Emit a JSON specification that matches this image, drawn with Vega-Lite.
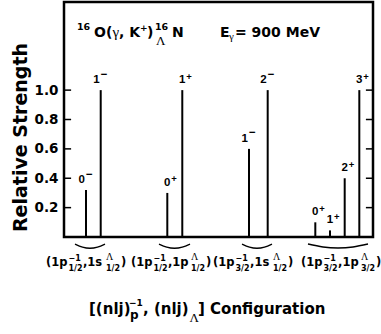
{
  "$schema": "https://vega.github.io/schema/vega-lite/v6.json",
  "width": 309,
  "height": 235,
  "autosize": "none",
  "padding": {"left": 64, "top": 2, "right": 8, "bottom": 97},
  "background": "white",
  "config": {"view": {"stroke": "black", "strokeWidth": 2.5}},
  "datasets": {
    "bars": [
      {"x": 0.712, "s": 0.32, "j": "0", "p": "−"},
      {"x": 1.188, "s": 1.0, "j": "1", "p": "−"},
      {"x": 3.343, "s": 0.30, "j": "0", "p": "+"},
      {"x": 3.828, "s": 1.0, "j": "1", "p": "+"},
      {"x": 5.987, "s": 0.6, "j": "1", "p": "−"},
      {"x": 6.592, "s": 1.0, "j": "2", "p": "−"},
      {"x": 8.133, "s": 0.10, "j": "0", "p": "+"},
      {"x": 8.608, "s": 0.045, "j": "1", "p": "+"},
      {"x": 9.084, "s": 0.40, "j": "2", "p": "+"},
      {"x": 9.557, "s": 1.0, "j": "3", "p": "+"}
    ],
    "ticks": [{"t": 0.2}, {"t": 0.4}, {"t": 0.6}, {"t": 0.8}, {"t": 1.0}],
    "brackets": [
      {"g": 1, "x": 0.356, "y": -0.048}, {"g": 1, "x": 0.599, "y": -0.069}, {"g": 1, "x": 0.841, "y": -0.077}, {"g": 1, "x": 1.084, "y": -0.069}, {"g": 1, "x": 1.327, "y": -0.048},
      {"g": 2, "x": 3.074, "y": -0.048}, {"g": 2, "x": 3.325, "y": -0.069}, {"g": 2, "x": 3.576, "y": -0.077}, {"g": 2, "x": 3.827, "y": -0.069}, {"g": 2, "x": 4.078, "y": -0.048},
      {"g": 3, "x": 5.761, "y": -0.048}, {"g": 3, "x": 6.003, "y": -0.069}, {"g": 3, "x": 6.246, "y": -0.077}, {"g": 3, "x": 6.489, "y": -0.069}, {"g": 3, "x": 6.731, "y": -0.048},
      {"g": 4, "x": 7.896, "y": -0.048}, {"g": 4, "x": 8.382, "y": -0.068}, {"g": 4, "x": 8.867, "y": -0.075}, {"g": 4, "x": 9.353, "y": -0.068}, {"g": 4, "x": 9.838, "y": -0.048}
    ],
    "groups": [
      {"x": 0.728, "y": -0.197, "sub": "1/2", "mid": ",1s", "sub2": "1/2"},
      {"x": 3.479, "y": -0.197, "sub": "1/2", "mid": ",1p", "sub2": "1/2"},
      {"x": 6.133, "y": -0.197, "sub": "3/2", "mid": ",1s", "sub2": "1/2"},
      {"x": 8.981, "y": -0.197, "sub": "3/2", "mid": ",1p", "sub2": "3/2"}
    ],
    "title": [{"x": 0.971, "y": 1.3635}],
    "xtitle": [{"x": 0.809, "y": -0.524}]
  },
  "layer": [
    {
      "data": {"name": "bars"},
      "mark": {"type": "rule", "color": "black", "strokeWidth": 2},
      "encoding": {
        "x": {"field": "x", "type": "quantitative", "scale": {"domain": [0, 10], "nice": false}, "axis": null},
        "y": {"field": "s", "type": "quantitative", "scale": {"domain": [0, 1.6], "nice": false},
          "axis": {"values": [0.2, 0.4, 0.6, 0.8, 1.0], "format": ".1f", "ticks": false, "domain": false, "grid": false,
            "labelFont": "DejaVu Sans", "labelFontWeight": "bold", "labelFontSize": 13.5, "labelColor": "black", "labelPadding": 6,
            "title": "Relative Strength", "titleFont": "DejaVu Sans", "titleFontSize": 19, "titleFontWeight": "bold", "titleColor": "black",
            "titleX": -44, "titleY": 135, "titleAngle": -90, "titleAlign": "center", "titleBaseline": "middle"}},
        "y2": {"datum": 0}
      }
    },
    {
      "data": {"name": "ticks"},
      "mark": {"type": "rule", "color": "black", "strokeWidth": 1.5},
      "encoding": {
        "x": {"datum": 0, "type": "quantitative", "scale": {"domain": [0, 10], "nice": false}, "axis": null},
        "x2": {"datum": 0.23},
        "y": {"field": "t", "type": "quantitative", "scale": {"domain": [0, 1.6], "nice": false}}
      }
    },
    {
      "data": {"name": "ticks"},
      "mark": {"type": "rule", "color": "black", "strokeWidth": 1.5},
      "encoding": {
        "x": {"datum": 9.77, "type": "quantitative", "scale": {"domain": [0, 10], "nice": false}, "axis": null},
        "x2": {"datum": 10},
        "y": {"field": "t", "type": "quantitative", "scale": {"domain": [0, 1.6], "nice": false}}
      }
    },
    {
      "data": {"name": "brackets"},
      "mark": {"type": "line", "color": "black", "strokeWidth": 1.4, "interpolate": "natural"},
      "encoding": {
        "x": {"field": "x", "type": "quantitative", "scale": {"domain": [0, 10], "nice": false}, "axis": null},
        "y": {"field": "y", "type": "quantitative", "scale": {"domain": [0, 1.6], "nice": false}},
        "detail": {"field": "g", "type": "nominal"}
      }
    },
    {
      "data": {"name": "bars"},
      "transform": [{"filter": "datum.p == '+'"}],
      "mark": {"type": "text", "font": "Liberation Sans", "fontWeight": "bold", "fontSize": 11.5, "align": "center", "baseline": "alphabetic", "dy": -7, "color": "black"},
      "encoding": {
        "x": {"field": "x", "type": "quantitative", "scale": {"domain": [0, 10], "nice": false}, "axis": null},
        "y": {"field": "s", "type": "quantitative", "scale": {"domain": [0, 1.6], "nice": false}},
        "text": {"field": "j"}
      }
    },
    {
      "data": {"name": "bars"},
      "transform": [{"filter": "datum.p != '+'"}],
      "mark": {"type": "text", "font": "Liberation Sans", "fontWeight": "bold", "fontSize": 11.5, "align": "right", "baseline": "alphabetic", "dx": -1, "dy": -7, "color": "black"},
      "encoding": {
        "x": {"field": "x", "type": "quantitative", "scale": {"domain": [0, 10], "nice": false}, "axis": null},
        "y": {"field": "s", "type": "quantitative", "scale": {"domain": [0, 1.6], "nice": false}},
        "text": {"field": "j"}
      }
    },
    {
      "data": {"name": "bars"},
      "transform": [{"filter": "datum.p == '+'"}],
      "mark": {"type": "text", "font": "Liberation Sans", "fontWeight": "bold", "fontSize": 9.5, "align": "left", "baseline": "alphabetic", "dx": 4, "dy": -10.5, "color": "black"},
      "encoding": {
        "x": {"field": "x", "type": "quantitative", "scale": {"domain": [0, 10], "nice": false}, "axis": null},
        "y": {"field": "s", "type": "quantitative", "scale": {"domain": [0, 1.6], "nice": false}},
        "text": {"field": "p"}
      }
    },
    {
      "data": {"name": "bars"},
      "transform": [{"filter": "datum.p != '+'"}],
      "mark": {"type": "text", "font": "Liberation Sans", "fontWeight": "bold", "fontSize": 11.5, "align": "left", "baseline": "alphabetic", "dx": 0, "dy": -12.5, "color": "black"},
      "encoding": {
        "x": {"field": "x", "type": "quantitative", "scale": {"domain": [0, 10], "nice": false}, "axis": null},
        "y": {"field": "s", "type": "quantitative", "scale": {"domain": [0, 1.6], "nice": false}},
        "text": {"field": "p"}
      }
    },
    {
      "data": {"name": "groups"},
      "layer": [
        {"mark": {"type": "text", "text": "(1p", "font": "DejaVu Sans", "fontWeight": "bold", "fontSize": 11.5, "align": "left", "baseline": "alphabetic", "dx": -40.5, "color": "black"}},
        {"mark": {"type": "text", "text": "−1", "font": "DejaVu Sans", "fontWeight": "bold", "fontSize": 8, "align": "left", "baseline": "alphabetic", "dx": -18, "dy": -5, "color": "black"}},
        {"mark": {"type": "text", "font": "DejaVu Sans", "fontWeight": "bold", "fontSize": 8, "align": "left", "baseline": "alphabetic", "dx": -18, "dy": 5, "color": "black"}, "encoding": {"text": {"field": "sub"}}},
        {"mark": {"type": "text", "font": "DejaVu Sans", "fontWeight": "bold", "fontSize": 11.5, "align": "left", "baseline": "alphabetic", "dx": -3.5, "color": "black"}, "encoding": {"text": {"field": "mid"}}},
        {"mark": {"type": "text", "text": "Λ", "font": "Liberation Serif", "fontSize": 10, "align": "left", "baseline": "alphabetic", "dx": 19.5, "dy": -6, "color": "black"}},
        {"mark": {"type": "text", "font": "DejaVu Sans", "fontWeight": "bold", "fontSize": 8, "align": "left", "baseline": "alphabetic", "dx": 19.5, "dy": 5, "color": "black"}, "encoding": {"text": {"field": "sub2"}}},
        {"mark": {"type": "text", "text": ")", "font": "DejaVu Sans", "fontWeight": "bold", "fontSize": 11.5, "align": "left", "baseline": "alphabetic", "dx": 34.5, "color": "black"}}
      ],
      "encoding": {
        "x": {"field": "x", "type": "quantitative", "scale": {"domain": [0, 10], "nice": false}, "axis": null},
        "y": {"field": "y", "type": "quantitative", "scale": {"domain": [0, 1.6], "nice": false}}
      }
    },
    {
      "data": {"name": "title"},
      "layer": [
        {"mark": {"type": "text", "text": "16", "font": "DejaVu Sans", "fontWeight": "bold", "fontSize": 9.5, "align": "left", "baseline": "alphabetic", "dx": -17, "dy": -7, "color": "black"}},
        {"mark": {"type": "text", "text": "O(", "font": "DejaVu Sans", "fontWeight": "bold", "fontSize": 14, "align": "left", "baseline": "alphabetic", "dx": 0, "color": "black"}},
        {"mark": {"type": "text", "text": "γ", "font": "Liberation Serif", "fontSize": 15, "align": "left", "baseline": "alphabetic", "dx": 18.5, "color": "black"}},
        {"mark": {"type": "text", "text": ", K", "font": "DejaVu Sans", "fontWeight": "bold", "fontSize": 14, "align": "left", "baseline": "alphabetic", "dx": 25, "color": "black"}},
        {"mark": {"type": "text", "text": "+", "font": "DejaVu Sans", "fontWeight": "bold", "fontSize": 9, "align": "left", "baseline": "alphabetic", "dx": 46, "dy": -6, "color": "black"}},
        {"mark": {"type": "text", "text": ")", "font": "DejaVu Sans", "fontWeight": "bold", "fontSize": 14, "align": "left", "baseline": "alphabetic", "dx": 53, "color": "black"}},
        {"mark": {"type": "text", "text": "16", "font": "DejaVu Sans", "fontWeight": "bold", "fontSize": 9.5, "align": "left", "baseline": "alphabetic", "dx": 61, "dy": -7, "color": "black"}},
        {"mark": {"type": "text", "text": "Λ", "font": "Liberation Serif", "fontSize": 13, "align": "left", "baseline": "alphabetic", "dx": 62, "dy": 8, "color": "black"}},
        {"mark": {"type": "text", "text": "N", "font": "DejaVu Sans", "fontWeight": "bold", "fontSize": 14, "align": "left", "baseline": "alphabetic", "dx": 78, "color": "black"}},
        {"mark": {"type": "text", "text": "E", "font": "DejaVu Sans", "fontWeight": "bold", "fontSize": 14, "align": "left", "baseline": "alphabetic", "dx": 126, "color": "black"}},
        {"mark": {"type": "text", "text": "γ", "font": "Liberation Serif", "fontSize": 11, "align": "left", "baseline": "alphabetic", "dx": 135, "dy": 3, "color": "black"}},
        {"mark": {"type": "text", "text": "= 900 MeV", "font": "DejaVu Sans", "fontWeight": "bold", "fontSize": 14, "align": "left", "baseline": "alphabetic", "dx": 141, "color": "black"}}
      ],
      "encoding": {
        "x": {"field": "x", "type": "quantitative", "scale": {"domain": [0, 10], "nice": false}, "axis": null},
        "y": {"field": "y", "type": "quantitative", "scale": {"domain": [0, 1.6], "nice": false}}
      }
    },
    {
      "data": {"name": "xtitle"},
      "layer": [
        {"mark": {"type": "text", "text": "[(nlj)", "font": "DejaVu Sans", "fontWeight": "bold", "fontSize": 15, "align": "left", "baseline": "alphabetic", "dx": 0, "color": "black"}},
        {"mark": {"type": "text", "text": "−1", "font": "DejaVu Sans", "fontWeight": "bold", "fontSize": 9, "align": "left", "baseline": "alphabetic", "dx": 40, "dy": -8, "color": "black"}},
        {"mark": {"type": "text", "text": "p", "font": "DejaVu Sans", "fontWeight": "bold", "fontSize": 12, "align": "left", "baseline": "alphabetic", "dx": 41, "dy": 5, "color": "black"}},
        {"mark": {"type": "text", "text": ", (nlj)", "font": "DejaVu Sans", "fontWeight": "bold", "fontSize": 15, "align": "left", "baseline": "alphabetic", "dx": 54, "color": "black"}},
        {"mark": {"type": "text", "text": "Λ", "font": "Liberation Serif", "fontSize": 13, "align": "left", "baseline": "alphabetic", "dx": 100.5, "dy": 8, "color": "black"}},
        {"mark": {"type": "text", "text": "] Configuration", "font": "DejaVu Sans", "fontWeight": "bold", "fontSize": 15, "align": "left", "baseline": "alphabetic", "dx": 109, "color": "black"}}
      ],
      "encoding": {
        "x": {"field": "x", "type": "quantitative", "scale": {"domain": [0, 10], "nice": false}, "axis": null},
        "y": {"field": "y", "type": "quantitative", "scale": {"domain": [0, 1.6], "nice": false}}
      }
    }
  ]
}
